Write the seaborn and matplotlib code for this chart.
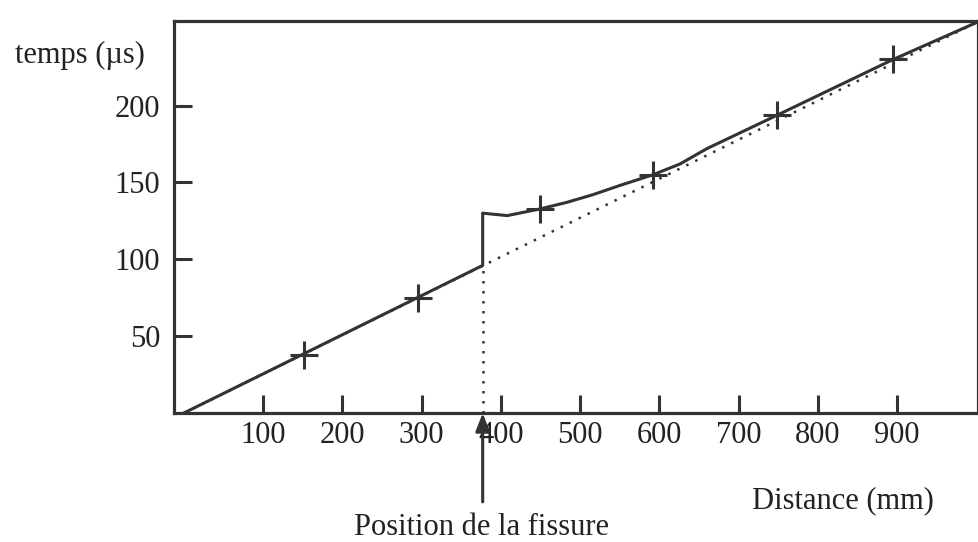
import matplotlib
matplotlib.use("Agg")
import matplotlib.pyplot as plt
import seaborn as sns
import pandas as pd

# Reference propagation line (sound path without defect)
ref_distance = [0, 1000]
ref_time = [0, 254]

# Measured arrival times along the bar (jump at the crack)
meas_distance = [0, 377, 377, 408, 449, 483, 516, 550, 592, 626, 660, 748, 895, 1000]
meas_time = [0, 96, 130, 128.4, 132.7, 137, 142, 148, 155, 162, 172, 193.6, 230, 254]

# Individual measurement points
pt_distance = [151, 296, 449, 592, 748, 895]
pt_time = [38, 75, 132.7, 155, 193.6, 230]

crack_distance = 377
crack_time = 96

x_ticks = [100, 200, 300, 400, 500, 600, 700, 800, 900]
y_ticks = [50, 100, 150, 200]

INK = "#333333"
TEXT = "#222222"
FS = 22

sns.set_theme(style="white")
plt.rcParams["font.family"] = ["Liberation Serif", "DejaVu Serif"]

fig = plt.figure(figsize=(9.79, 5.42), dpi=100)
ax = fig.add_axes([174 / 979, (542 - 413) / 542, (978 - 174) / 979, 392 / 542])

ref_df = pd.DataFrame({"d": ref_distance, "t": ref_time})
meas_df = pd.DataFrame({"d": meas_distance, "t": meas_time})
pts_df = pd.DataFrame({"d": pt_distance, "t": pt_time})

sns.lineplot(data=ref_df, x="d", y="t", ax=ax, color=INK, lw=1.8,
             linestyle=(0, (1, 3)), sort=False, estimator=None)
sns.lineplot(data=meas_df, x="d", y="t", ax=ax, color=INK, lw=2.2,
             sort=False, estimator=None)
sns.scatterplot(data=pts_df, x="d", y="t", ax=ax, marker="+", s=380,
                color=INK, linewidth=2.2, zorder=5)

# Dotted drop from the crack to the distance axis
ax.plot([crack_distance, crack_distance], [0, crack_time], color=INK,
        lw=1.8, linestyle=(0, (1, 3)))

ax.set_xlim(-12.5, 1002)
ax.set_ylim(0, 255)
ax.set_xticks(x_ticks)
ax.set_yticks(y_ticks)
ax.set_xlabel("")
ax.set_ylabel("")

for s in ax.spines.values():
    s.set_color(INK)
    s.set_linewidth(2.3)
    s.set_visible(True)

ax.tick_params(axis="both", direction="in", length=13, width=2.2,
               color=INK, labelcolor=TEXT, labelsize=FS)
ax.tick_params(axis="x", pad=6, bottom=True)
ax.tick_params(axis="y", pad=10, left=True)

# Arrow pointing at the crack position
ax.annotate("", xy=(crack_distance, 0), xycoords="data",
            xytext=(0, -64), textcoords="offset points",
            arrowprops=dict(arrowstyle="-|>,head_length=0.9,head_width=0.35",
                            color=INK, lw=2.2, shrinkA=0, shrinkB=0))

fig.text(15 / 979, 1 - 63 / 542, "temps (µs)", ha="left", va="baseline",
         fontsize=FS, color=TEXT)
fig.text(843 / 979, 1 - 508 / 542, "Distance (mm)", ha="center",
         va="baseline", fontsize=FS, color=TEXT)
fig.text(482 / 979, 1 - 535 / 542, "Position de la fissure", ha="center",
         va="baseline", fontsize=FS, color=TEXT)

fig.savefig("out.png", dpi=100, facecolor="white")
